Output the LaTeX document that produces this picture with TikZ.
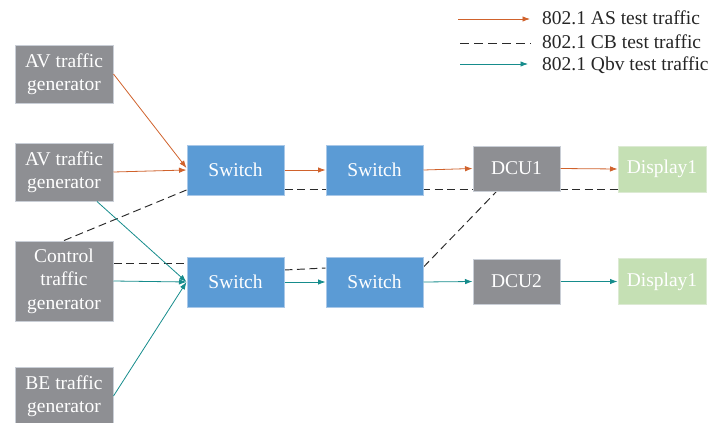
\documentclass[tikz,border=0pt]{standalone}
\usepackage{fontspec}
\setmainfont{Liberation Serif}
\usetikzlibrary{arrows.meta,backgrounds}
\definecolor{boxgray}{HTML}{8E8F93}
\definecolor{boxblue}{HTML}{5B9BD5}
\definecolor{boxgreen}{HTML}{C5E0B4}
\definecolor{edgegray}{HTML}{C9CED6}
\definecolor{edgeblue}{HTML}{A9C8E8}
\definecolor{edgegreen}{HTML}{DCEAD3}
\definecolor{asorange}{HTML}{D0622C}
\definecolor{qbvteal}{HTML}{168C8C}
\definecolor{cbdark}{HTML}{2A2A2A}
\definecolor{legtext}{HTML}{262626}
\tikzset{
  basebox/.style={rectangle, inner sep=0pt, line width=1pt, text=white,
    font=\fontsize{19.5}{23.5}\selectfont, align=center},
  genbox/.style={basebox, fill=boxgray, draw=edgegray, minimum width=98pt},
  swbox/.style={basebox, fill=boxblue, draw=edgeblue, minimum width=97pt, minimum height=50pt},
  dcubox/.style={basebox, fill=boxgray, draw=edgegray, minimum width=87pt, minimum height=45pt},
  dispbox/.style={basebox, fill=boxgreen, draw=edgegreen, minimum width=88pt, minimum height=46pt},
  tip/.style={-{Latex[length=7.5pt,width=5.5pt]}},
  aslink/.style={tip, draw=asorange, line width=0.8pt},
  qbvlink/.style={tip, draw=qbvteal, line width=0.8pt},
  cblink/.style={draw=cbdark, line width=0.95pt, dash pattern=on 8pt off 4.5pt},
  legtxt/.style={anchor=west, inner sep=0pt, text=legtext, font=\fontsize{19.5}{23.5}\selectfont}
}
\begin{document}
\begin{tikzpicture}[x=1pt,y=-1pt]
\useasboundingbox (0,0) rectangle (710,423);
% generators
\node[genbox, minimum height=58pt] (av1) at (64,74) {AV traffic\\generator};
\node[genbox, minimum height=58pt] (av2) at (64,172) {AV traffic\\generator};
\node[genbox, minimum height=80pt] (ctrl) at (64,281) {Control\\traffic\\generator};
\node[genbox, minimum height=58pt] (be) at (64,396) {BE traffic\\generator};
% switches
\node[swbox] (s1) at (235.5,170) {Switch};
\node[swbox] (s2) at (374.5,170) {Switch};
\node[swbox] (s3) at (235.5,282) {Switch};
\node[swbox] (s4) at (374.5,282) {Switch};
% DCUs and displays
\node[dcubox] (dcu1) at (516.5,168.5) {DCU1};
\node[dispbox] (disp1) at (662,169) {Display1};
\node[dcubox] (dcu2) at (516.5,281.5) {DCU2};
\node[dispbox] (disp2) at (662,281.5) {Display1};
% connectors
\begin{scope}[on background layer]
\draw[cblink] ([yshift=-19.5pt]s1.east) -- ([yshift=-19.5pt]s1.east -| disp1.west);
\draw[cblink] (ctrl.north) -- ([yshift=-20pt]s1.west);
\draw[cblink] ([yshift=17.5pt]ctrl.east) -- ([yshift=17.5pt]ctrl.east -| s3.west);
\draw[cblink] ([yshift=12pt]s3.east) -- ([yshift=14pt]s4.west);
\draw[cblink] ([yshift=15pt]s4.east) -- ([xshift=-20pt]dcu1.south);
\end{scope}
\draw[aslink] (av1.east) -- ([yshift=2pt]s1.west);
\draw[aslink] (av2.east) -- (s1.west);
\draw[aslink] (s1.east) -- (s2.west);
\draw[aslink] (s2.east) -- (dcu1.west);
\draw[aslink] (dcu1.east) -- (disp1.west);
\draw[qbvlink] ([xshift=33pt]av2.south) -- (s3.west);
\draw[qbvlink] (ctrl.east) -- (s3.west);
\draw[qbvlink] (be.east) -- (s3.west);
\draw[qbvlink] (s3.east) -- (s4.west);
\draw[qbvlink] (s4.east) -- (dcu2.west);
\draw[qbvlink] (dcu2.east) -- (disp2.west);
% legend
\node[legtxt] (lg1) at (542,18) {802.1 AS test traffic};
\node[legtxt] (lg2) at (542,42) {802.1 CB test traffic};
\node[legtxt] (lg3) at (542,65) {802.1 Qbv test traffic};
\coordinate (l1s) at (458,19);
\coordinate (l2s) at (460,43);
\coordinate (l3s) at (460,64);
\draw[aslink] (l1s) -- ([xshift=-12pt]l1s -| lg1.west);
\draw[cbdark, line width=0.95pt, dash pattern=on 9pt off 5pt] (l2s) -- ([xshift=-11pt]l2s -| lg2.west);
\draw[qbvlink] (l3s) -- ([xshift=-14pt]l3s -| lg3.west);
\end{tikzpicture}
\end{document}
